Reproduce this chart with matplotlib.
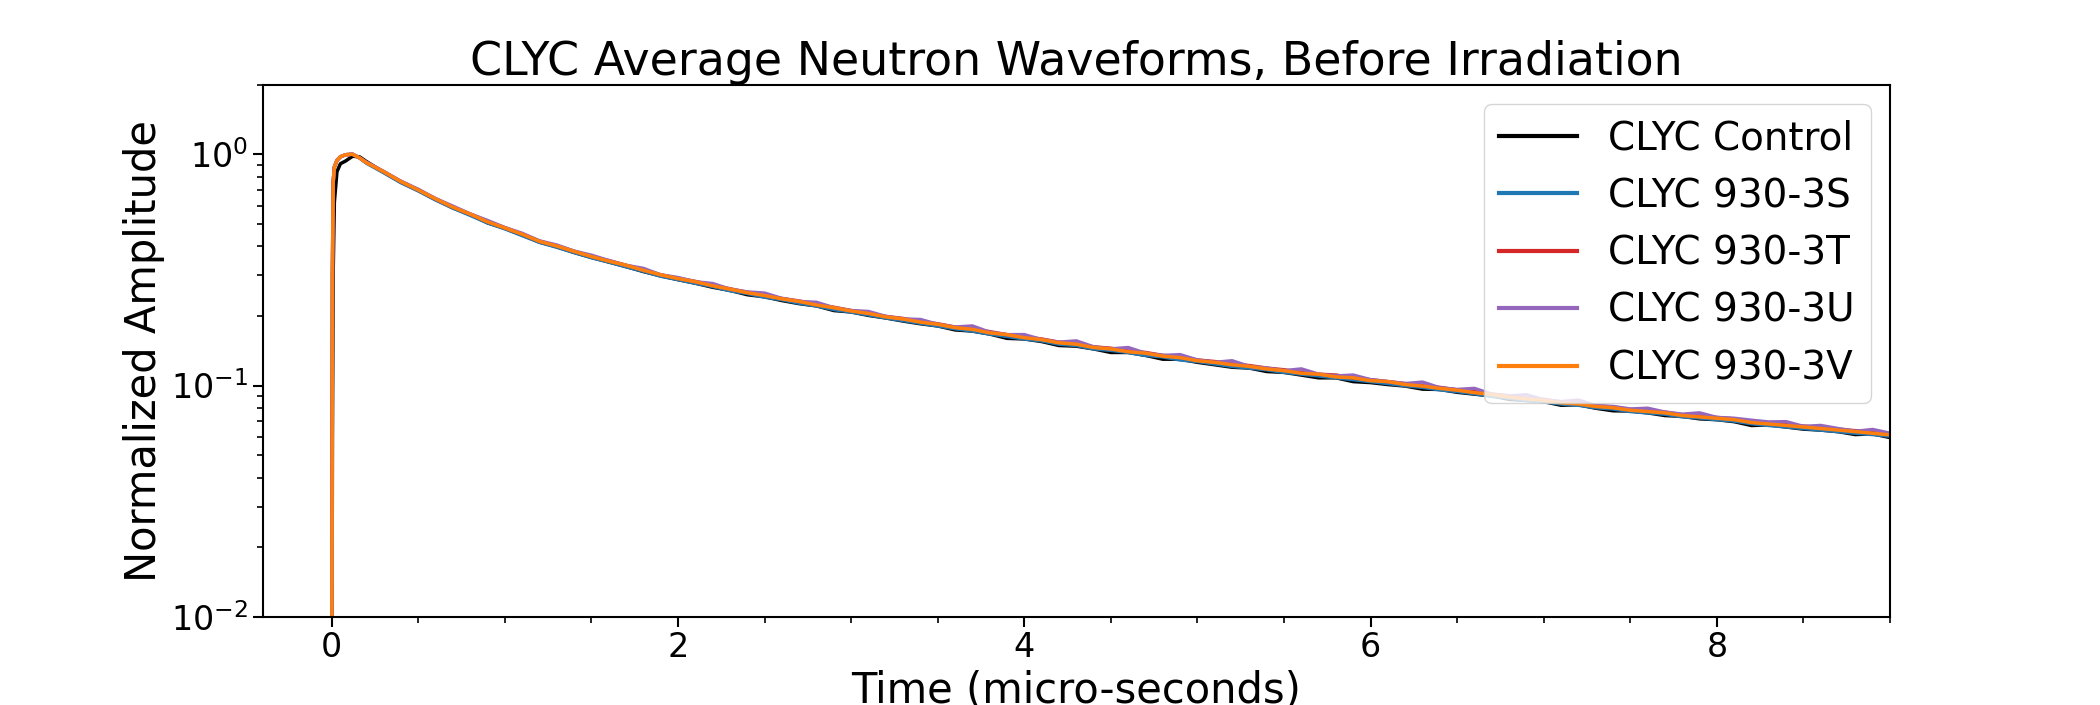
import numpy as np
import matplotlib
matplotlib.use("Agg")
import matplotlib.pyplot as plt
from matplotlib.ticker import MultipleLocator

# ------------------------------------------------------------------ #
# Data (amplitude normalised to peak = 1)
# ------------------------------------------------------------------ #
# fast rise region, microseconds
time_rise = [-0.01, 0.0, 0.004, 0.008, 0.015, 0.03, 0.05, 0.08, 0.12, 0.16]
# decay region sampled every 0.1 us from 0.2 to 9.0
time_tail = np.round(np.arange(0.2, 9.001, 0.1), 2)

rise_control = [0.001, 0.003, 0.06, 0.30, 0.62, 0.84, 0.91, 0.935, 0.98, 0.975]
rise_fast    = [0.001, 0.004, 0.30, 0.75, 0.88, 0.94, 0.975, 0.995, 1.0, 0.965]

tail_control = [
    0.930, 0.836, 0.758, 0.697, 0.638, 0.586, 0.549, 0.505,
    0.478, 0.447, 0.417, 0.398, 0.376, 0.358, 0.342, 0.327, 0.311, 0.298,
    0.287, 0.277, 0.266, 0.258, 0.247, 0.242, 0.233, 0.226, 0.221, 0.211,
    0.208, 0.201, 0.196, 0.190, 0.185, 0.181, 0.174, 0.172, 0.167, 0.160,
    0.159, 0.155, 0.149, 0.148, 0.144, 0.139, 0.139, 0.135, 0.130, 0.130,
    0.126, 0.123, 0.120, 0.119, 0.115, 0.114, 0.111, 0.108, 0.108, 0.104,
    0.103, 0.101, 0.0995, 0.0965, 0.0962, 0.0935, 0.0918, 0.0902, 0.0872, 0.0862,
    0.0852, 0.0822, 0.0826, 0.0798, 0.0778, 0.0776, 0.0762, 0.0742, 0.0736, 0.0718,
    0.0712, 0.0698, 0.0672, 0.0676, 0.0662, 0.0648, 0.0642, 0.0632, 0.0614, 0.0618, 0.0596,
]
tail_3s = [
    0.915, 0.832, 0.753, 0.694, 0.634, 0.585, 0.544, 0.505,
    0.476, 0.445, 0.416, 0.396, 0.376, 0.357, 0.342, 0.326, 0.312, 0.297,
    0.287, 0.277, 0.268, 0.257, 0.250, 0.241, 0.235, 0.227, 0.221, 0.213,
    0.208, 0.202, 0.196, 0.191, 0.186, 0.181, 0.176, 0.172, 0.167, 0.163,
    0.159, 0.156, 0.151, 0.149, 0.144, 0.142, 0.139, 0.135, 0.133, 0.129,
    0.127, 0.124, 0.121, 0.119, 0.117, 0.114, 0.112, 0.110, 0.108, 0.106,
    0.104, 0.102, 0.0998, 0.0982, 0.0958, 0.0942, 0.0922, 0.0898, 0.0882, 0.0862,
    0.0852, 0.0832, 0.0822, 0.0802, 0.0792, 0.0772, 0.0762, 0.0752, 0.0732, 0.0724,
    0.0712, 0.0702, 0.0684, 0.0672, 0.0662, 0.0652, 0.0642, 0.0632, 0.0622, 0.0614, 0.0604,
]
tail_3t = [
    0.922, 0.841, 0.762, 0.702, 0.641, 0.592, 0.551, 0.512,
    0.481, 0.452, 0.421, 0.402, 0.381, 0.362, 0.347, 0.331, 0.317, 0.301,
    0.291, 0.282, 0.271, 0.262, 0.253, 0.246, 0.238, 0.232, 0.224, 0.218,
    0.211, 0.206, 0.199, 0.195, 0.189, 0.185, 0.179, 0.176, 0.171, 0.166,
    0.162, 0.159, 0.154, 0.152, 0.147, 0.145, 0.141, 0.139, 0.135, 0.133,
    0.129, 0.127, 0.124, 0.122, 0.119, 0.117, 0.114, 0.112, 0.111, 0.108,
    0.106, 0.104, 0.102, 0.0998, 0.0982, 0.0958, 0.0942, 0.0918, 0.0902, 0.0878,
    0.0872, 0.0848, 0.0838, 0.0818, 0.0808, 0.0788, 0.0778, 0.0768, 0.0748, 0.0738,
    0.0728, 0.0718, 0.0698, 0.0688, 0.0678, 0.0668, 0.0658, 0.0648, 0.0638, 0.0628, 0.0618,
]
tail_3u = [
    0.923, 0.842, 0.764, 0.705, 0.643, 0.596, 0.552, 0.517,
    0.482, 0.455, 0.422, 0.405, 0.381, 0.366, 0.347, 0.331, 0.321, 0.301,
    0.293, 0.281, 0.276, 0.261, 0.254, 0.251, 0.238, 0.231, 0.229, 0.217,
    0.211, 0.209, 0.199, 0.194, 0.193, 0.184, 0.179, 0.181, 0.170, 0.166,
    0.166, 0.158, 0.154, 0.156, 0.147, 0.144, 0.146, 0.138, 0.135, 0.136,
    0.129, 0.126, 0.128, 0.121, 0.119, 0.116, 0.118, 0.112, 0.110, 0.111,
    0.106, 0.104, 0.102, 0.1035, 0.0978, 0.0962, 0.0972, 0.0918, 0.0902, 0.0912,
    0.0868, 0.0852, 0.0866, 0.0818, 0.0812, 0.0792, 0.0798, 0.0768, 0.0752, 0.0762,
    0.0728, 0.0722, 0.0708, 0.0696, 0.0698, 0.0666, 0.0672, 0.0652, 0.0634, 0.0646, 0.0622,
]
tail_3v = [
    0.920, 0.840, 0.761, 0.700, 0.641, 0.590, 0.551, 0.510,
    0.480, 0.451, 0.420, 0.401, 0.380, 0.361, 0.345, 0.331, 0.315, 0.301,
    0.290, 0.281, 0.270, 0.261, 0.252, 0.245, 0.237, 0.231, 0.223, 0.217,
    0.210, 0.205, 0.198, 0.194, 0.188, 0.184, 0.178, 0.175, 0.169, 0.166,
    0.161, 0.158, 0.153, 0.151, 0.146, 0.144, 0.140, 0.138, 0.134, 0.132,
    0.128, 0.126, 0.123, 0.121, 0.118, 0.116, 0.113, 0.112, 0.109, 0.108,
    0.105, 0.104, 0.101, 0.0995, 0.0972, 0.0955, 0.0932, 0.0915, 0.0892, 0.0875,
    0.0862, 0.0842, 0.0832, 0.0812, 0.0802, 0.0782, 0.0772, 0.0762, 0.0742, 0.0732,
    0.0722, 0.0712, 0.0692, 0.0682, 0.0672, 0.0662, 0.0652, 0.0642, 0.0632, 0.0622, 0.0612,
]

labels = ["CLYC Control", "CLYC 930-3S", "CLYC 930-3T", "CLYC 930-3U", "CLYC 930-3V"]
colors = ["black", "tab:blue", "tab:red", "tab:purple", "tab:orange"]
rises  = [rise_control, rise_fast, rise_fast, rise_fast, rise_fast]
tails  = [tail_control, tail_3s, tail_3t, tail_3u, tail_3v]

# ------------------------------------------------------------------ #
# Plot
# ------------------------------------------------------------------ #
fig, ax = plt.subplots(figsize=(21, 7.05), dpi=100)
fig.subplots_adjust(left=0.125, right=0.9, top=0.88, bottom=0.125)

time = np.concatenate([time_rise, time_tail])
for lab, col, r, t in zip(labels, colors, rises, tails):
    ax.plot(time, np.concatenate([r, t]), color=col, lw=2.5, label=lab)

ax.set_yscale("log")
ax.set_ylim(0.01, 2)
ax.set_xlim(-0.4, 9.0)
ax.xaxis.set_minor_locator(MultipleLocator(0.5))
ax.tick_params(axis="both", which="major", labelsize=24, length=7, width=1.5)
ax.tick_params(axis="both", which="minor", length=4, width=1.2)
for sp in ax.spines.values():
    sp.set_linewidth(1.5)

ax.set_title("CLYC Average Neutron Waveforms, Before Irradiation", fontsize=33)
ax.set_xlabel("Time (micro-seconds)", fontsize=30)
ax.set_ylabel("Normalized Amplitude", fontsize=30)
leg = ax.legend(loc="upper right", fontsize=28)
for line in leg.get_lines():
    line.set_linewidth(3)

fig.savefig("out.png", dpi=100)
